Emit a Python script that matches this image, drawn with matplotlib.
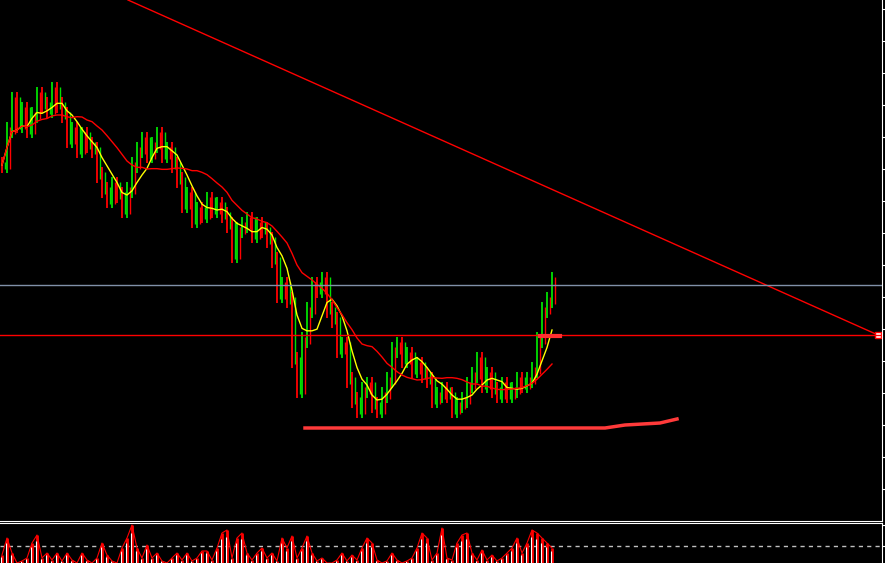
import numpy as np
import pandas as pd
import matplotlib
matplotlib.use("Agg")
import matplotlib.pyplot as plt

# price values (screen-level units, larger = lower on chart)
closes = [165,130,100,125,110,130,115,95,105,110,90,105,115,140,130,150,135,145,150,175,
          190,200,185,195,210,190,165,150,140,155,145,135,155,150,165,180,205,195,220,210,
          215,200,210,205,215,225,255,230,225,220,235,225,230,240,260,295,285,300,360,390,
          340,310,285,290,280,310,320,350,345,380,400,410,390,385,405,410,395,380,350,345,
          360,355,370,365,375,380,400,395,390,395,410,405,400,385,375,360,385,375,390,395,
          385,395,390,380,385,380,370,340,310,300,280]
osc = [8,25,10,0,2,5,20,28,5,10,3,10,2,10,3,0,10,3,0,5,
       20,8,2,0,15,25,38,15,5,18,5,10,2,0,5,10,3,10,2,5,
       12,12,3,15,30,33,5,25,30,10,3,10,15,5,10,2,25,15,27,5,
       15,27,10,2,5,0,0,3,10,2,8,3,15,25,20,3,0,2,10,3,
       0,2,5,15,30,25,3,10,35,5,3,20,28,30,10,3,13,3,8,2,
       5,10,15,25,10,20,33,30,25,20,15]
trend_x = [128, 878]; trend_y = [0, 335]
hlines_gray = [285]; hlines_red = [335]
support_x = [305, 605, 625, 660, 677]; support_y = [428, 428, 425, 423, 419]
wick = 8

x = 2 + 5 * np.arange(len(closes))
c = np.array(closes, float)
o = np.concatenate([[c[0]], c[:-1]])
s = pd.Series(c)
ma_fast = s.rolling(6, min_periods=1).mean()
ma_slow = s.rolling(15, min_periods=1).mean()

fig = plt.figure(figsize=(8.85, 5.63), dpi=100, facecolor="black")
ax = fig.add_axes([0, 42/563, 882/885, 521/563], facecolor="black")
ax2 = fig.add_axes([0, 0, 882/885, 40/563], facecolor="black")

for xi, oi, ci in zip(x, o, c):
    col = "#ff0000" if ci >= oi else "#00e000"
    alt = "#00e000" if col == "#ff0000" else "#ff0000"
    ax.vlines(xi, min(oi, ci) - wick, max(oi, ci) + wick, color=col, lw=1.3)
    ax.vlines(xi + 2.5, min(oi, ci) - 3, max(oi, ci) + 4, color=alt, lw=1.0)
ax.plot(x, ma_fast, color="yellow", lw=1)
ax.plot(x, ma_slow, color="red", lw=1)
ax.plot(trend_x, trend_y, color="red", lw=1)
ax.plot(trend_x[-1], trend_y[-1], marker="s", ms=4, mfc="white", mec="red")
for h in hlines_gray:
    ax.axhline(h, color="#8090a8", lw=1)
for h in hlines_red:
    ax.axhline(h, color="red", lw=1)
ax.plot([540, 560], [336, 336], color="#ff3030", lw=3)
ax.plot(support_x, support_y, color="#ff3a3a", lw=2.5)

ax.set_xlim(0, 882)
ax.set_ylim(521, 0)
ax2.set_xlim(0, 882)
ax2.set_ylim(0, 40)

ax2.axhline(17, color="#c0c0c0", lw=1, ls=(0, (3, 3)))
ax2.vlines(x, 0, osc, color="red", lw=2)
ax2.vlines(x - 1.5, 0, np.array(osc) * 0.8, color="white", lw=0.8)
ax2.plot(x, osc, color="red", lw=0.8)

for a, ticks in ((ax, np.arange(9, 521, 32)), (ax2, [17, 38])):
    for sp in ("left", "top"):
        a.spines[sp].set_visible(False)
    a.spines["right"].set_color("white")
    a.spines["bottom"].set_color("white")
    a.set_xticks([])
    a.yaxis.tick_right()
    a.set_yticks(ticks)
    a.tick_params(axis="y", colors="white", length=3, labelright=False)
ax2.spines["bottom"].set_visible(False)
ax2.spines["top"].set_visible(True)
ax2.spines["top"].set_color("white")

fig.savefig("out.png", dpi=100, facecolor="black")
